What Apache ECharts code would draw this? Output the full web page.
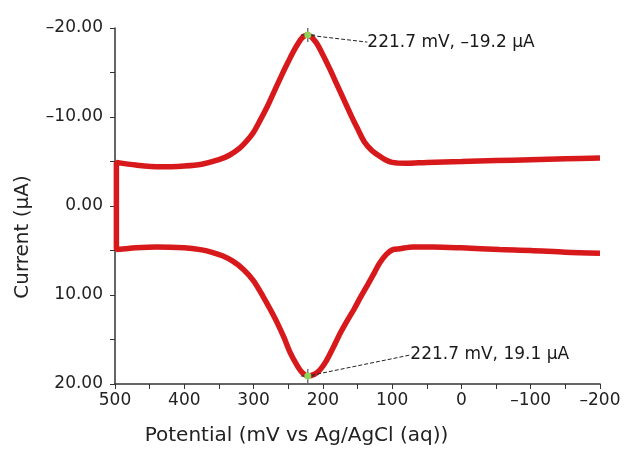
<!DOCTYPE html>
<html lang="en">
<head>
	<meta charset="UTF-8">
	<title>Cyclic voltammogram</title>
	<style>
		*{
			margin: 0;
			padding: 0;
		}
		.box{
			width: 629px;
			height: 469px;
			background: #fff;
		}
	</style>
	<script src="https://cdn.jsdelivr.net/npm/echarts@6/dist/echarts.min.js"></script>
</head>
<body>
	<div class="box"></div>
	<script>
		// return scan (top, oxidation) then forward scan (bottom, reduction)
		var upperPotential = [-200, -150, -100, -50, 0, 50, 80, 100, 110, 120, 130, 140, 150, 160, 170, 180, 190, 200, 210, 221.7, 230, 240, 250, 260, 270, 280, 290, 300, 310, 320, 335, 350, 375, 400, 435, 470, 498];
		var upperCurrent = [-5.4, -5.3, -5.2, -5.1, -5.0, -4.9, -4.8, -4.9, -5.2, -5.7, -6.3, -7.2, -8.7, -10.3, -12.0, -13.7, -15.4, -17.0, -18.4, -19.2, -18.9, -17.7, -16.2, -14.6, -12.9, -11.2, -9.7, -8.3, -7.3, -6.5, -5.7, -5.2, -4.7, -4.5, -4.4, -4.6, -4.9];
		var lowerPotential = [498, 470, 440, 400, 377, 360, 345, 330, 315, 300, 286, 276, 266, 256, 247, 238, 230, 221.7, 212, 204, 195, 185, 175, 165, 155, 146, 135, 125, 118, 108, 99, 89, 70, 41, 0, -55, -100, -150, -200];
		var lowerCurrent = [4.9, 4.7, 4.6, 4.7, 4.9, 5.2, 5.6, 6.2, 7.1, 8.4, 10.2, 11.6, 13.1, 14.8, 16.5, 17.8, 18.7, 19.1, 18.9, 18.4, 17.4, 15.9, 14.3, 12.9, 11.6, 10.3, 8.8, 7.4, 6.4, 5.4, 4.9, 4.8, 4.6, 4.6, 4.7, 4.9, 5.0, 5.2, 5.3];
		var peakPotential = [221.7, 221.7];
		var peakCurrent = [-19.2, 19.1];
		var labelShift = [[56, 7], [99, -21]];

		var FONT = 'DejaVu Sans';
		var chart = echarts.init(document.querySelector('.box'));

		function dash(v) {
			return String(v).replace('-', '\u2013');
		}

		var curve = [];
		upperPotential.forEach((p, i) => curve.push([p, upperCurrent[i]]));
		lowerPotential.forEach((p, i) => curve.push([p, lowerCurrent[i]]));
		var peaks = peakPotential.map((p, i) => [p, peakCurrent[i]]);

		var option = {
			animation: false,
			grid: {
				left: 115,
				right: 29,
				top: 28,
				bottom: 85
			},
			xAxis: {
				type: 'value',
				min: -200,
				max: 500,
				interval: 50,
				inverse: true,
				name: 'Potential (mV vs Ag/AgCl (aq))',
				nameLocation: 'middle',
				nameGap: 42,
				nameTextStyle: {
					fontFamily: FONT,
					fontSize: 20,
					color: '#222',
					padding: [0, 122, 0, 0]
				},
				axisLine: { onZero: false, lineStyle: { color: '#333', width: 1.5 } },
				axisTick: { length: 5, lineStyle: { color: '#333' } },
				axisLabel: {
					fontFamily: FONT,
					fontSize: 17,
					color: '#222',
					margin: 8,
					formatter: v => v % 100 === 0 ? dash(v) : ''
				},
				splitLine: { show: false }
			},
			yAxis: {
				type: 'value',
				min: -20,
				max: 20,
				interval: 5,
				inverse: true,
				name: 'Current (\u00b5A)',
				nameLocation: 'middle',
				nameGap: 82,
				nameTextStyle: {
					fontFamily: FONT,
					fontSize: 20,
					color: '#222',
					padding: [0, 62, 0, 0]
				},
				axisLine: { show: true, onZero: false, lineStyle: { color: '#333', width: 1.5 } },
				axisTick: { show: true, length: 5, lineStyle: { color: '#333' } },
				axisLabel: {
					fontFamily: FONT,
					fontSize: 17,
					color: '#222',
					margin: 12,
					formatter: v => v % 10 === 0 ? dash(v.toFixed(2)) : ''
				},
				splitLine: { show: false }
			},
			series: [
				{
					name: 'CV',
					type: 'line',
					data: curve,
					showSymbol: false,
					smooth: 0.3,
					lineStyle: { color: '#d7191c', width: 5.5 },
					z: 2
				},
				{
					name: 'cross',
					type: 'scatter',
					data: peaks,
					symbol: 'path://M6.5,0h1v14h-1z M0,6.5h14v1h-14z',
					symbolSize: 14,
					itemStyle: { color: '#333', opacity: 1 },
					z: 3
				},
				{
					name: 'peaks',
					type: 'scatter',
					data: peaks,
					symbol: 'circle',
					symbolSize: 7,
					itemStyle: { color: '#8fd45a', opacity: 1 },
					label: {
						show: true,
						position: 'right',
						distance: 0,
						fontFamily: FONT,
						fontSize: 17,
						color: '#1a1a1a',
						formatter: p => p.value[0] + ' mV, ' + dash(p.value[1]) + ' \u00b5A'
					},
					labelLayout: params => ({
						dx: labelShift[params.dataIndex][0],
						dy: labelShift[params.dataIndex][1]
					}),
					labelLine: {
						show: true,
						lineStyle: { color: '#222', width: 1, type: 'dashed' }
					},
					z: 4
				}
			]
		};
		chart.setOption(option);
	</script>
</body>
</html>
